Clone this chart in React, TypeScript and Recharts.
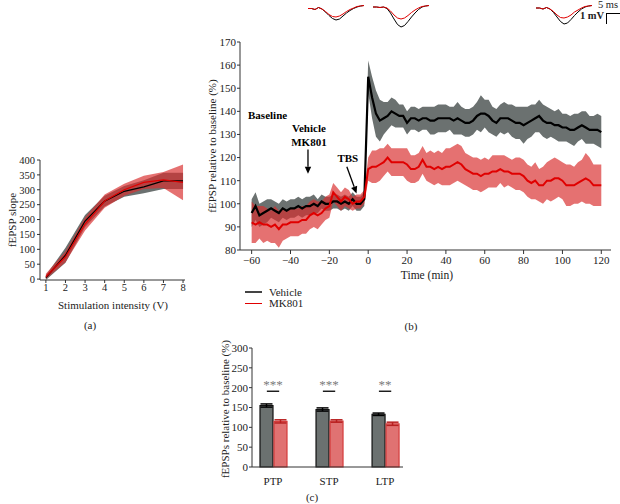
import React from "react";
import {
  ComposedChart,
  LineChart,
  BarChart,
  Area,
  Line,
  Bar,
  ErrorBar,
  XAxis,
  YAxis,
  ReferenceLine,
  ReferenceDot,
} from "recharts";

const FONT = "'Liberation Serif', 'DejaVu Serif', serif";
const GREY = "#6b7170";
const RED_BAND = "#d92e2e";
const RED_LINE = "#e00000";
const INK = "#222";

// ---- (a) input/output curve
const VOLTS = [1, 2, 3, 4, 5, 6, 7, 8];
const IO_VEH = [5, 80, 195, 262, 295, 310, 330, 330];
const IO_VEH_SEM = [8, 25, 20, 18, 18, 22, 27, 27];
const IO_MK = [8, 75, 185, 262, 300, 325, 333, 325];
const IO_MK_SEM = [10, 18, 22, 22, 20, 22, 27, 60];

// ---- (b) time course, 2 min bins
const TIME = [
  -60, -58, -56, -54, -52, -50, -48, -46, -44, -42, -40, -38, -36, -34, -32, -30, -28, -26, -24, -22,
  -20, -18, -16, -14, -12, -10, -8, -6, -4, -2, 0, 2, 4, 6, 8, 10, 12, 14, 16, 18, 20, 22, 24, 26, 28,
  30, 32, 34, 36, 38, 40, 42, 44, 46, 48, 50, 52, 54, 56, 58, 60, 62, 64, 66, 68, 70, 72, 74, 76, 78,
  80, 82, 84, 86, 88, 90, 92, 94, 96, 98, 100, 102, 104, 106, 108, 110, 112, 114, 116, 118, 120,
];
const VEH_MEAN = [
  96, 99, 95, 96, 97, 98, 97, 96, 98, 97, 98, 98, 99, 98, 99, 99, 100, 99, 101, 100,
  100, 101, 101, 100, 101, 100, 102, 100, 100, 102,
  155, 146, 139, 136, 137, 138, 140, 139, 138, 138,
  135, 137, 137, 136, 137, 137, 136, 136, 137, 137,
  137, 137, 136, 137, 136, 135, 135, 136, 138, 139,
  139, 138, 136, 135, 137, 137, 137, 136, 135, 135,
  134, 135, 136, 137, 138, 136, 135, 135, 134, 134,
  133, 133, 132, 132, 133, 134, 133, 132, 132, 132,
  131,
];
const VEH_SEM = [
  6, 6, 5, 5, 5, 4, 4, 4, 4, 4, 4, 4, 4, 4, 4, 4, 4, 3, 3, 3, 3, 3, 3, 3, 3, 3, 3, 3, 3, 3,
  7, 9, 10, 9, 7, 6, 6, 6, 5, 5,
  5, 5, 5, 5, 5, 5, 6, 6, 6, 6,
  6, 5, 6, 7, 6, 6, 6, 6, 6, 8,
  6, 7, 6, 6, 6, 7, 6, 7, 7, 7,
  8, 7, 7, 6, 7, 7, 7, 6, 6, 7,
  6, 6, 6, 7, 6, 6, 7, 6, 6, 7,
  7,
];
const MK_MEAN = [
  92, 91, 92, 91, 91, 90, 91, 89, 91, 91, 92, 92, 92, 93, 93, 95, 96, 95, 96, 98,
  99, 105, 103, 101, 103, 102, 100, 101, 101, 103,
  115, 116, 116, 117, 118, 120, 118, 118, 118, 118,
  117, 115, 115, 116, 119, 116, 116, 115, 116, 115,
  116, 116, 117, 118, 117, 115, 114, 113, 113, 112,
  113, 113, 114, 114, 115, 114, 114, 113, 113, 113,
  112, 110, 109, 110, 108, 108, 110, 110, 111, 111,
  110, 108, 108, 108, 109, 110, 111, 110, 108, 108,
  108,
];
const MK_SEM = [
  9, 8, 7, 8, 7, 7, 8, 8, 7, 6, 6, 6, 6, 6, 6, 6, 6, 6, 5, 5, 5, 4, 4, 4, 4, 4, 3, 3, 3, 3,
  5, 7, 7, 7, 6, 6, 6, 6, 6, 6,
  7, 6, 6, 6, 6, 6, 7, 7, 7, 7,
  8, 8, 8, 8, 8, 7, 7, 7, 7, 7,
  7, 6, 7, 7, 6, 7, 6, 6, 7, 7,
  7, 7, 7, 8, 7, 8, 8, 9, 9, 8,
  8, 9, 9, 8, 9, 9, 11, 10, 9, 9,
  9,
];

// sample fEPSP traces (mV): baseline, PTP, LTP
const TRACE_T = [0, 1, 2, 3, 4, 5, 6, 7, 8, 9, 10, 11, 12, 13, 14, 15, 16];
const TRACE_VEH = [
  [-0.25, -0.25, -0.35, -0.15, -0.3, -0.6, -0.95, -1.25, -1.4, -1.3, -1.0, -0.7, -0.45, -0.25, -0.1, 0.0, 0.05],
  [-0.1, -0.1, -0.15, -0.1, -0.25, -0.7, -1.3, -1.85, -2.1, -1.95, -1.55, -1.1, -0.7, -0.35, -0.1, 0.0, 0.05],
  [-0.2, -0.2, -0.3, -0.15, -0.3, -0.65, -1.1, -1.55, -1.8, -1.7, -1.35, -0.95, -0.6, -0.3, -0.1, 0.0, 0.05],
];
const TRACE_MK = [
  [-0.25, -0.25, -0.35, -0.15, -0.3, -0.55, -0.85, -1.05, -1.1, -1.0, -0.8, -0.55, -0.35, -0.2, -0.05, 0.0, 0.05],
  [-0.1, -0.1, -0.15, -0.1, -0.2, -0.5, -0.9, -1.2, -1.3, -1.2, -0.95, -0.65, -0.4, -0.2, -0.05, 0.0, 0.05],
  [-0.2, -0.2, -0.3, -0.15, -0.3, -0.55, -0.9, -1.15, -1.2, -1.1, -0.9, -0.6, -0.4, -0.2, -0.05, 0.0, 0.05],
];

// ---- (c) summary bars
const PHASES = ["PTP", "STP", "LTP"];
const BAR_VEH = [155, 145, 133];
const BAR_VEH_ERR = [4, 4, 3];
const BAR_MK = [115, 116, 109];
const BAR_MK_ERR = [4, 3, 4];
const SIG = ["***", "***", "**"];

const ioData = VOLTS.map((v, i) => ({
  v,
  veh: IO_VEH[i],
  mk: IO_MK[i],
  vehBand: [IO_VEH[i] - IO_VEH_SEM[i], IO_VEH[i] + IO_VEH_SEM[i]],
  mkBand: [Math.max(0, IO_MK[i] - IO_MK_SEM[i]), IO_MK[i] + IO_MK_SEM[i]],
}));

const tcData = TIME.map((t, i) => ({
  t,
  veh: VEH_MEAN[i],
  mk: MK_MEAN[i],
  vehBand: [VEH_MEAN[i] - VEH_SEM[i], VEH_MEAN[i] + VEH_SEM[i]],
  mkBand: [MK_MEAN[i] - MK_SEM[i], MK_MEAN[i] + MK_SEM[i]],
}));

const barData = PHASES.map((p, i) => ({
  pos: i + 1,
  veh: BAR_VEH[i],
  vehErr: BAR_VEH_ERR[i],
  mk: BAR_MK[i],
  mkErr: BAR_MK_ERR[i],
}));

const tick = (size: number) => ({ fontSize: size, fill: INK, fontFamily: FONT });

function Txt({ x, y, children, size = 11, rotate = 0, weight = 400 }: any) {
  return (
    <div
      style={{
        position: "absolute",
        left: x,
        top: y,
        transform: `translate(-50%, -50%) rotate(${rotate}deg)`,
        fontSize: size,
        fontFamily: FONT,
        fontWeight: weight,
        whiteSpace: "nowrap",
        lineHeight: 1,
        color: INK,
      }}
    >
      {children}
    </div>
  );
}

// line with a filled arrow head at the (x2, y2) end
const Arrow = (p: any) => {
  const { x1, y1, x2, y2 } = p;
  const a = Math.atan2(y2 - y1, x2 - x1);
  const L = 7;
  const W = 3.2;
  const bx = x2 - L * Math.cos(a);
  const by = y2 - L * Math.sin(a);
  const pts = `${x2},${y2} ${bx - W * Math.sin(a)},${by + W * Math.cos(a)} ${bx + W * Math.sin(a)},${by - W * Math.cos(a)}`;
  return (
    <g>
      <line x1={x1} y1={y1} x2={bx} y2={by} stroke="#000" strokeWidth={1.3} />
      <polygon points={pts} fill="#000" />
    </g>
  );
};

function Trace({ left, idx }: { left: number; idx: number }) {
  const data = TRACE_T.map((t, i) => ({ t, veh: TRACE_VEH[idx][i], mk: TRACE_MK[idx][i] }));
  return (
    <div style={{ position: "absolute", left, top: 0 }}>
      <LineChart width={56} height={30} data={data} margin={{ top: 0, right: 0, bottom: 0, left: 0 }}>
        <XAxis dataKey="t" type="number" domain={[0, 16]} hide />
        <YAxis domain={[-2.4, 0.6]} hide />
        <Line dataKey="veh" stroke="#000" strokeWidth={1} dot={false} isAnimationActive={false} />
        <Line dataKey="mk" stroke={RED_LINE} strokeWidth={1} dot={false} isAnimationActive={false} />
      </LineChart>
    </div>
  );
}

const annot = { position: "center" as const, fill: "#000", fontSize: 11, fontWeight: 700, fontFamily: FONT };

export default function App() {
  return (
    <div style={{ position: "absolute", left: 0, top: 0, width: 620, height: 504, background: "#fff", fontFamily: FONT, overflow: "hidden" }}>
      {/* (a) */}
      <div style={{ position: "absolute", left: 0, top: 150 }}>
        <ComposedChart width={195} height={150} data={ioData} margin={{ top: 10, right: 10, bottom: 4, left: 0 }}>
          <XAxis dataKey="v" type="number" domain={[0.7, 8.1]} ticks={VOLTS} height={16} tick={tick(10.5)} tickSize={3} tickMargin={1} stroke="#333" />
          <XAxis xAxisId="top" orientation="top" type="number" domain={[0.7, 8.1]} height={0} tick={false} tickLine={false} stroke="#333" />
          <YAxis domain={[0, 400]} ticks={[0, 50, 100, 150, 200, 250, 300, 350, 400]} width={40} tick={tick(10.5)} tickSize={3} tickMargin={2} stroke="#333" interval={0} />
          <YAxis yAxisId="right" orientation="right" width={0} tick={false} tickLine={false} stroke="#333" />
          <Area dataKey="vehBand" stroke="none" fill={GREY} fillOpacity={1} isAnimationActive={false} />
          <Area dataKey="mkBand" stroke="none" fill={RED_BAND} fillOpacity={0.68} isAnimationActive={false} />
          <Line dataKey="veh" stroke="#000" strokeWidth={1.3} dot={false} isAnimationActive={false} />
          <Line dataKey="mk" stroke={RED_LINE} strokeWidth={1.2} dot={false} isAnimationActive={false} />
        </ComposedChart>
      </div>
      <Txt x={12} y={220} rotate={-90} size={11}>fEPSP slope</Txt>
      <Txt x={113} y={305} size={11}>Stimulation intensity (V)</Txt>
      <Txt x={90} y={325} size={11}>(a)</Txt>

      {/* traces + scale bar */}
      <Trace left={308} idx={0} />
      <Trace left={373} idx={1} />
      <Trace left={536} idx={2} />
      <div style={{ position: "absolute", left: 606, top: 13, width: 16, height: 10, borderLeft: "1px solid #000", borderTop: "1px solid #000" }} />
      <Txt x={608} y={5} size={10.5}>5 ms</Txt>
      <Txt x={592} y={16} size={10.5} weight={700}>1 mV</Txt>

      {/* (b) */}
      <div style={{ position: "absolute", left: 180, top: 30 }}>
        <ComposedChart width={440} height={260} data={tcData} margin={{ top: 12, right: 9, bottom: 10, left: 0 }}>
          <XAxis dataKey="t" type="number" domain={[-66, 125]} ticks={[-60, -40, -20, 0, 20, 40, 60, 80, 100, 120]} height={30} tick={tick(11)} tickSize={4} tickMargin={2} stroke="#333" tickFormatter={(v: number) => (v < 0 ? `\u2212${-v}` : `${v}`)} />
          <XAxis xAxisId="top" orientation="top" type="number" domain={[-66, 125]} height={0} tick={false} tickLine={false} stroke="#333" />
          <YAxis domain={[80, 170]} ticks={[80, 90, 100, 110, 120, 130, 140, 150, 160, 170]} width={60} tick={tick(11)} tickSize={3} tickMargin={1} stroke="#333" interval={0} />
          <YAxis yAxisId="right" orientation="right" width={0} tick={false} tickLine={false} stroke="#333" />
          <Area dataKey="vehBand" stroke="none" fill={GREY} fillOpacity={1} isAnimationActive={false} />
          <Area dataKey="mkBand" stroke="none" fill={RED_BAND} fillOpacity={0.68} isAnimationActive={false} />
          <Line dataKey="veh" stroke="#000" strokeWidth={2.2} dot={false} isAnimationActive={false} />
          <Line dataKey="mk" stroke={RED_LINE} strokeWidth={2} dot={false} isAnimationActive={false} />
          <ReferenceLine segment={[{ x: -31, y: 123.5 }, { x: -31, y: 113 }]} shape={Arrow} />
          <ReferenceLine segment={[{ x: -11, y: 116 }, { x: -6, y: 104.5 }]} shape={Arrow} />
          <ReferenceDot x={-51.8} y={138.4} r={0} fill="none" stroke="none" label={{ ...annot, value: "Baseline" }} />
          <ReferenceDot x={-30.5} y={132.8} r={0} fill="none" stroke="none" label={{ ...annot, value: "Vehicle" }} />
          <ReferenceDot x={-30.5} y={126.7} r={0} fill="none" stroke="none" label={{ ...annot, value: "MK801" }} />
          <ReferenceDot x={-10.5} y={119.8} r={0} fill="none" stroke="none" label={{ ...annot, value: "TBS" }} />
        </ComposedChart>
      </div>
      <Txt x={212} y={146} rotate={-90} size={11}>fEPSP relative to baseline (%)</Txt>
      <Txt x={427} y={276} size={11.5}>Time (min)</Txt>
      <div style={{ position: "absolute", left: 245, top: 291, width: 17, height: 2, background: "#444" }} />
      <div style={{ position: "absolute", left: 245, top: 302.5, width: 17, height: 1.5, background: RED_LINE }} />
      <div style={{ position: "absolute", left: 269, top: 285.5, fontSize: 11, lineHeight: "12px", color: INK }}>Vehicle</div>
      <div style={{ position: "absolute", left: 269, top: 296.5, fontSize: 11, lineHeight: "12px", color: INK }}>MK801</div>
      <Txt x={411} y={326} size={11}>(b)</Txt>

      {/* (c) */}
      <div style={{ position: "absolute", left: 200, top: 340 }}>
        <BarChart width={210} height={150} data={barData} margin={{ top: 8, right: 7, bottom: 3, left: 0 }} barGap={1}>
          <XAxis dataKey="pos" type="number" domain={[0.625, 3.32]} ticks={[1, 2, 3]} height={20} tick={tick(11)} tickLine={false} tickMargin={4} stroke="#333" tickFormatter={(v: number) => PHASES[v - 1]} />
          <XAxis xAxisId="top" orientation="top" type="number" domain={[0.625, 3.32]} height={0} tick={false} tickLine={false} stroke="#333" />
          <YAxis domain={[0, 300]} ticks={[0, 50, 100, 150, 200, 250, 300]} width={52} tick={tick(11)} tickSize={3} tickMargin={1} stroke="#333" interval={0} />
          <YAxis yAxisId="right" orientation="right" width={0} tick={false} tickLine={false} stroke="#333" />
          <Bar dataKey="veh" barSize={13} fill={GREY} stroke="#111" strokeWidth={1.2} isAnimationActive={false}>
            <ErrorBar dataKey="vehErr" width={6} stroke="#000" strokeWidth={1.5} direction="y" />
          </Bar>
          <Bar dataKey="mk" barSize={13} fill="#e07272" stroke="#d43c3c" strokeWidth={1.2} isAnimationActive={false}>
            <ErrorBar dataKey="mkErr" width={6} stroke="#b82020" strokeWidth={1.5} direction="y" />
          </Bar>
          {SIG.map((s, i) => (
            <ReferenceLine
              key={i}
              segment={[{ x: i + 0.89, y: 191 }, { x: i + 1.11, y: 191 }]}
              stroke="#000"
              strokeWidth={1.3}
              label={{ value: s, position: "top", fill: "#7a7a7a", fontSize: 13, fontFamily: FONT, offset: 2 }}
            />
          ))}
        </BarChart>
      </div>
      <Txt x={225} y={409} rotate={-90} size={11}>fEPSPs relative to baseline (%)</Txt>
      <Txt x={312} y={497} size={11}>(c)</Txt>
    </div>
  );
}
